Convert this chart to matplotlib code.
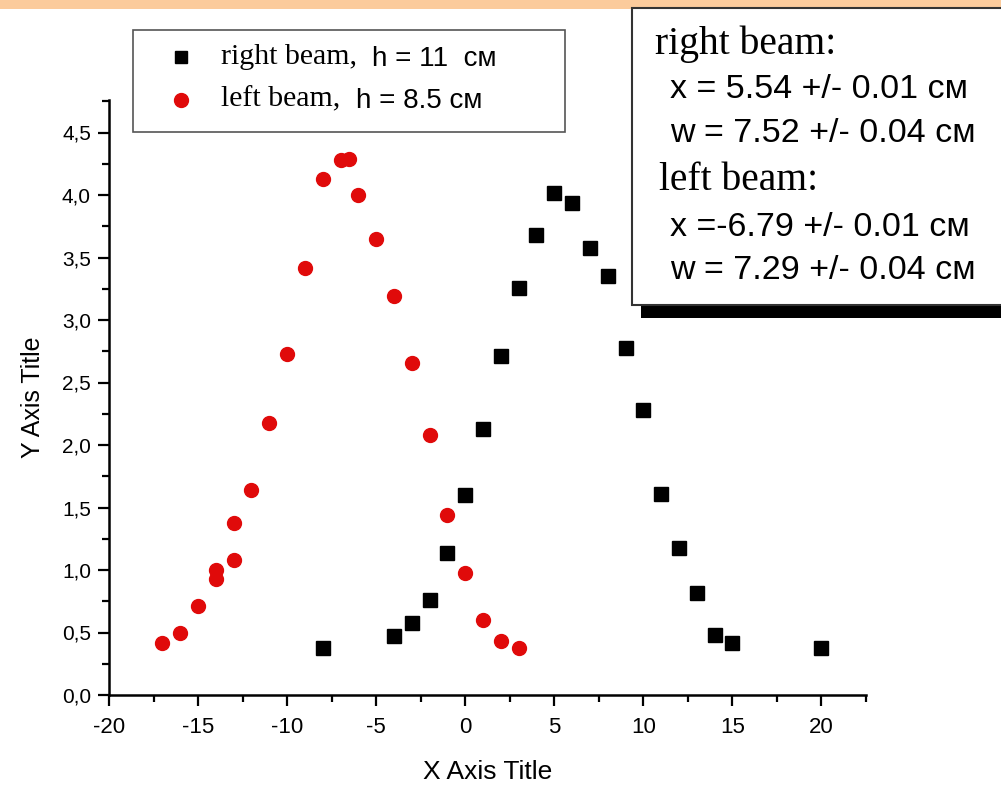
import matplotlib
matplotlib.use("Agg")
import matplotlib.pyplot as plt
from matplotlib.patches import Rectangle
from matplotlib.lines import Line2D
from matplotlib.ticker import MultipleLocator

# ---- data ----
right_x = [-8, -4, -3, -2, -1, 0, 1, 2, 3, 4, 5, 6, 7, 8, 9, 10, 11, 12, 13, 14, 15, 20]
right_y = [0.38, 0.47, 0.58, 0.76, 1.14, 1.60, 2.13, 2.71, 3.26, 3.68, 4.02, 3.94, 3.58,
           3.35, 2.78, 2.28, 1.61, 1.18, 0.82, 0.48, 0.42, 0.38]
right_err = [0.03] * len(right_x)

left_x = [-17, -16, -15, -14, -14, -13, -13, -12, -11, -10, -9, -8, -7, -6.5, -6, -5,
          -4, -3, -2, -1, 0, 1, 2, 3]
left_y = [0.42, 0.50, 0.71, 1.00, 0.93, 1.38, 1.08, 1.64, 2.18, 2.73, 3.42, 4.13, 4.28,
          4.29, 4.00, 3.65, 3.19, 2.66, 2.08, 1.44, 0.98, 0.60, 0.43, 0.38]
left_err = [0.03] * len(left_x)

x_ticks = [-20, -15, -10, -5, 0, 5, 10, 15, 20]
x_ticklabels = ['-20', '-15', '-10', '-5', '0', '5', '10', '15', '20']
y_ticks = [0.0, 0.5, 1.0, 1.5, 2.0, 2.5, 3.0, 3.5, 4.0, 4.5]
y_ticklabels = ['0,0', '0,5', '1,0', '1,5', '2,0', '2,5', '3,0', '3,5', '4,0', '4,5']

legend_labels = [("right beam,", "h = 11  см"), ("left beam,", "h = 8.5 см")]
fit_lines = ["right beam:", "x = 5.54 +/- 0.01 см", "w = 7.52 +/- 0.04 см",
             "left beam:", "x =-6.79 +/- 0.01 см", "w = 7.29 +/- 0.04 см"]

W, H = 1001, 785
fig = plt.figure(figsize=(W / 100, H / 100), dpi=100)
fig.patch.set_facecolor('white')

SANS = ['Liberation Sans', 'DejaVu Sans']
SERIF = ['Liberation Serif', 'DejaVu Serif']

def fx(px):
    return px / W

def fy(py):
    return 1 - py / H

# top orange band
fig.patches.append(Rectangle((0, fy(9)), 1, 9 / H, transform=fig.transFigure,
                             facecolor='#FBCB9C', edgecolor='none', zorder=0))

ax = fig.add_axes([fx(109), fy(695), fx(866) - fx(109), fy(100) - fy(695)])
RED = '#E00A0A'
ax.errorbar(right_x, right_y, yerr=right_err, fmt='s', color='black', ms=9.5,
            capsize=3, elinewidth=1, zorder=3)
ax.errorbar(left_x, left_y, yerr=left_err, fmt='o', color=RED, ms=10,
            capsize=3, elinewidth=1, zorder=3)

ax.set_xlim(-20, 22.5)
ax.set_ylim(0, 4.76)
ax.set_xticks(x_ticks)
ax.set_xticklabels(x_ticklabels, family=SANS, fontsize=16)
ax.set_yticks(y_ticks)
ax.set_yticklabels(y_ticklabels, family=SANS, fontsize=15)
ax.xaxis.set_minor_locator(MultipleLocator(2.5))
ax.yaxis.set_minor_locator(MultipleLocator(0.25))
ax.tick_params(which='major', direction='out', length=8, width=1.6)
ax.tick_params(axis='x', which='major', pad=8)
ax.tick_params(axis='y', which='major', pad=5)
ax.tick_params(which='minor', direction='out', length=5, width=1.6)
for s in ['top', 'right']:
    ax.spines[s].set_visible(False)
for s in ['left', 'bottom']:
    ax.spines[s].set_linewidth(1.8)
ax.set_xlabel('X Axis Title', family=SANS, fontsize=19, labelpad=16)
ax.set_ylabel('Y Axis Title', family=SANS, fontsize=18, labelpad=12)

# legend box (manual)
fig.patches.append(Rectangle((fx(133), fy(132)), fx(565) - fx(133), (132 - 30) / H,
                             transform=fig.transFigure, facecolor='white',
                             edgecolor='#555555', lw=1.2, zorder=5))
fig.lines.append(Line2D([fx(181)], [fy(57)], transform=fig.transFigure, marker='s',
                        color='black', ms=9, ls='none', zorder=6))
fig.lines.append(Line2D([fx(181)], [fy(100)], transform=fig.transFigure, marker='o',
                        color=RED, ms=10, ls='none', zorder=6))
fig.text(fx(221), fy(57), legend_labels[0][0], family=SERIF, fontsize=21.5,
         va='center', ha='left', zorder=7)
fig.text(fx(372), fy(59), legend_labels[0][1], family=SANS, fontsize=20,
         va='center', ha='left', zorder=7)
fig.text(fx(221), fy(99), legend_labels[1][0], family=SERIF, fontsize=21.5,
         va='center', ha='left', zorder=7)
fig.text(fx(356), fy(101), legend_labels[1][1], family=SANS, fontsize=20,
         va='center', ha='left', zorder=7)

# fit results box with shadow
fig.patches.append(Rectangle((fx(641), fy(318)), 1.2, (318 - 20) / H,
                             transform=fig.transFigure, facecolor='black',
                             edgecolor='none', zorder=8))
fig.patches.append(Rectangle((fx(632), fy(305)), 1.2, (305 - 8) / H,
                             transform=fig.transFigure, facecolor='white',
                             edgecolor='#333333', lw=1.5, zorder=9))
ys = [44, 90, 134, 181, 227, 271]
xs = [655, 670, 670, 659, 670, 670]
for i, (txt, yy, xx) in enumerate(zip(fit_lines, ys, xs)):
    serif = i in (0, 3)
    fig.text(fx(xx), fy(yy), txt, family=SERIF if serif else SANS,
             fontsize=28.5 if serif else 24.5, va='center', ha='left', zorder=10)

fig.savefig('out.png', dpi=100)
